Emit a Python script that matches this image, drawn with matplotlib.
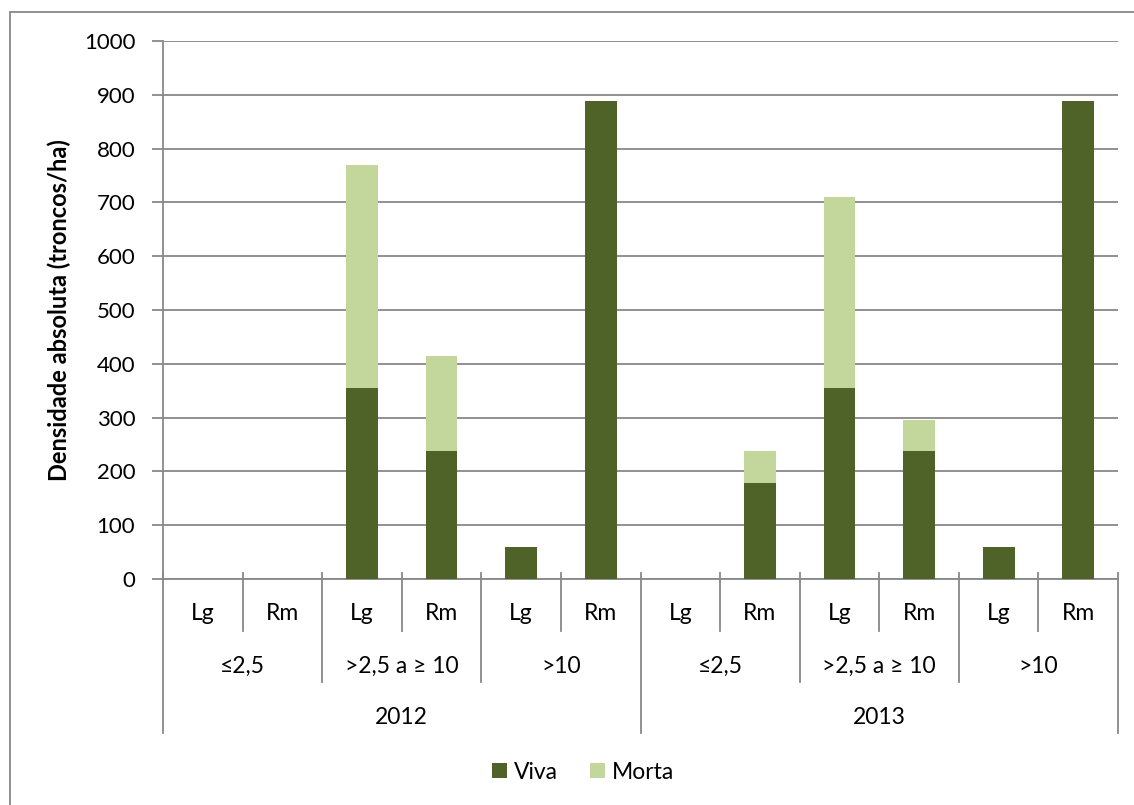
import matplotlib
matplotlib.use("Agg")
import matplotlib.pyplot as plt
from matplotlib.patches import Rectangle, Patch
import matplotlib.transforms as mtransforms

plt.rcParams['font.family'] = ['Lato', 'DejaVu Sans']

# Data
years = ["2012", "2013"]
size_classes = ["≤2,5", ">2,5 a ≥ 10", ">10"]
species = ["Lg", "Rm"]
viva = [0, 0, 355, 237, 59, 888, 0, 178, 355, 237, 59, 888]
morta = [0, 0, 414, 177, 0, 0, 0, 59, 355, 59, 0, 0]

FS = 16
FSX = 16.5
W, H = 1134, 805
fig = plt.figure(figsize=(W / 100, H / 100), dpi=100)

x0, x1, yb, yt = 163, 1118, 579, 41
ax = fig.add_axes([x0 / W, 1 - yb / H, (x1 - x0) / W, (yb - yt) / H])

grid_c = "#888888"
n = len(viva)
xs = list(range(n))
ax.bar(xs, viva, width=0.4, color="#4F6228", label="Viva", zorder=3)
ax.bar(xs, morta, width=0.4, bottom=viva, color="#C3D69B", label="Morta", zorder=3)

ax.set_xlim(-0.5, n - 0.5)
ax.set_ylim(0, 1000)
ax.set_yticks(range(0, 1001, 100))
ax.yaxis.grid(True, color=grid_c, linewidth=1.3, zorder=0)
ax.tick_params(axis='y', labelsize=FS, length=8, color=grid_c, width=1.3, pad=12)
ax.tick_params(axis='x', length=0, labelbottom=False)
for s in ["top", "right"]:
    ax.spines[s].set_visible(False)
ax.spines["left"].set_color(grid_c)
ax.spines["left"].set_linewidth(1.3)
ax.spines["bottom"].set_color(grid_c)
ax.spines["bottom"].set_linewidth(1.3)

ax.set_ylabel("Densidade absoluta (troncos/ha)", fontsize=17, fontweight="bold", labelpad=9)

# hierarchical x labels
trans = mtransforms.blended_transform_factory(ax.transData, ax.transAxes)
h = yb - yt
def ay(py):
    return (yb - py) / h

row1, row2, row3 = ay(613), ay(666), ay(717)
d1, d2, d3 = ay(631), ay(682), ay(733)

idx = 0
for yi, yr in enumerate(years):
    for ci, sc in enumerate(size_classes):
        for si, sp in enumerate(species):
            ax.text(idx, row1, sp, transform=trans, ha="center", va="center", fontsize=FSX)
            idx += 1
        cstart = yi * 6 + ci * 2
        ax.text(cstart + 0.5, row2, sc, transform=trans, ha="center", va="center", fontsize=FSX)
    ax.text(yi * 6 + 2.5, row3, yr, transform=trans, ha="center", va="center", fontsize=FSX)

for b in range(n + 1):
    if b % 6 == 0:
        depth = d3
    elif b % 2 == 0:
        depth = d2
    else:
        depth = d1
    ax.plot([b - 0.5, b - 0.5], [0, depth], transform=trans, color=grid_c,
            linewidth=1.3, clip_on=False, zorder=1)
    ax.plot([b - 0.5, b - 0.5], [0, ay(573)], transform=trans, color=grid_c,
            linewidth=1.3, clip_on=False, zorder=1)

# legend
handles = [Patch(facecolor="#4F6228"), Patch(facecolor="#C3D69B")]
fig.legend(handles, ["Viva", "Morta"], loc="center", bbox_to_anchor=(583 / W, 1 - 772 / H),
           ncol=2, frameon=False, fontsize=FSX, handlelength=0.65, handleheight=0.65,
           handletextpad=0.3, columnspacing=1.4)

# outer border
fig.patches.append(Rectangle((10 / W, -0.05), 1.1, 1 - 12 / H + 0.05, transform=fig.transFigure,
                             fill=False, edgecolor=grid_c, linewidth=1.3))

fig.savefig("out.png", dpi=100)
